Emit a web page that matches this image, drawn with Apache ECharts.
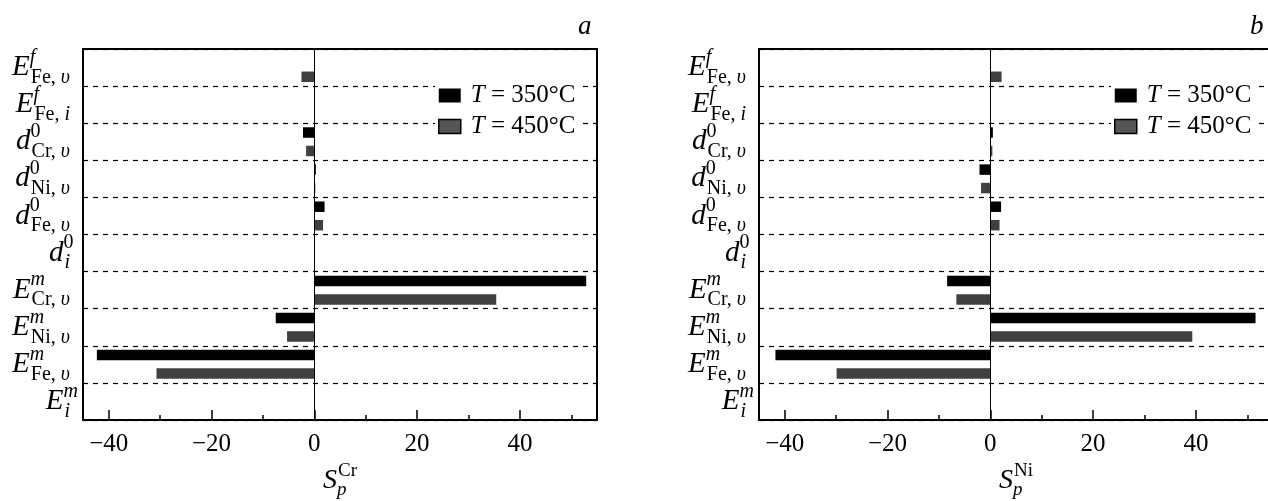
<!DOCTYPE html>
<html>
<head>
<meta charset="utf-8">
<script src="https://cdn.jsdelivr.net/npm/echarts@6/dist/echarts.min.js"></script>
<style>
  html, body { margin: 0; padding: 0; background: #fff; }
  #chart { width: 1268px; height: 501px; }
</style>
</head>
<body>
<div id="chart"></div>
<script>
// categories, top to bottom: main symbol, superscript, subscript (roman part + italic part)
const catMain = ['E', 'E', 'd', 'd', 'd', 'd', 'E', 'E', 'E', 'E'];
const catSup = ['f', 'f', '0', '0', '0', '0', 'm', 'm', 'm', 'm'];
const catSubRoman = ['Fe, ', 'Fe, ', 'Cr, ', 'Ni, ', 'Fe, ', '', 'Cr, ', 'Ni, ', 'Fe, ', ''];
const catSubItalic = ['υ', 'i', 'υ', 'υ', 'υ', 'i', 'υ', 'υ', 'υ', 'i'];
const categories = catMain.map((m, i) => 'c' + i);

const seriesNames = ['T = 350°C', 'T = 450°C'];

// panel a: S_p^Cr
const crT350 = [null, null, -2.2, 0.3, 2.0, null, 52.9, -7.5, -42.3, null];
const crT450 = [-2.5, null, -1.6, 0.2, 1.7, null, 35.4, -5.3, -30.7, null];
// panel b: S_p^Ni
const niT350 = [null, null, 0.5, -2.1, 2.1, null, -8.4, 51.6, -41.8, null];
const niT450 = [2.2, null, 0.4, -1.8, 1.8, null, -6.6, 39.3, -29.9, null];

const xMin = -45, xMax = 55;
const majorTicks = [-40, -20, 0, 20, 40];
const minorTicks = [-30, -10, 10, 30, 50];

const serif = 'Liberation Serif';
const colors = ['#000000', '#404040'];

const chart = echarts.init(document.getElementById('chart'));

const yRich = {
  main: { fontFamily: serif, fontStyle: 'italic', fontSize: 29, color: '#000', align: 'left', lineHeight: 40, verticalAlign: 'middle' },
  supI: { fontFamily: serif, fontStyle: 'italic', fontSize: 20, color: '#000', align: 'left', width: 1, verticalAlign: 'top', lineHeight: 20 },
  supR: { fontFamily: serif, fontSize: 20, color: '#000', align: 'left', width: 1, verticalAlign: 'top', lineHeight: 20 },
  subR: { fontFamily: serif, fontSize: 20, color: '#000', align: 'left', verticalAlign: 'bottom', lineHeight: 20 },
  subI: { fontFamily: serif, fontStyle: 'italic', fontSize: 20, color: '#000', align: 'left', verticalAlign: 'bottom', lineHeight: 20 }
};

function yLabel(v, i) {
  const supStyle = /\d/.test(catSup[i]) ? 'supR' : 'supI';
  let s = '{main|' + catMain[i] + '}{' + supStyle + '|' + catSup[i] + '}';
  if (catSubRoman[i]) s += '{subR|' + catSubRoman[i] + '}';
  s += '{subI|' + catSubItalic[i] + '}';
  return s;
}

const nameRich = {
  S: { fontFamily: serif, fontStyle: 'italic', fontSize: 28, color: '#000', align: 'left', lineHeight: 38, verticalAlign: 'middle' },
  sub: { fontFamily: serif, fontStyle: 'italic', fontSize: 19, color: '#000', align: 'left', width: 1, verticalAlign: 'bottom', lineHeight: 19 },
  sup: { fontFamily: serif, fontSize: 19, color: '#000', align: 'left', verticalAlign: 'top', lineHeight: 19 }
};

const grids = [
  { left: 83, top: 49, width: 514, height: 371 },
  { left: 759, top: 49, width: 514, height: 371 }
];

function xAxes(gridIndex, elem) {
  return [
    {
      type: 'value', gridIndex: gridIndex, min: xMin, max: xMax,
      name: '{S|S}{sub|p}{sup|' + elem + '}',
      nameLocation: 'middle', nameGap: 41,
      nameTextStyle: { rich: nameRich },
      axisLine: { show: false },
      splitLine: { show: false },
      axisTick: { show: true, inside: true, length: 10, customValues: majorTicks, lineStyle: { color: '#000', width: 1.5 } },
      axisLabel: {
        customValues: majorTicks, margin: 12,
        fontFamily: serif, fontSize: 25, color: '#000',
        formatter: v => String(v).replace('-', '\u2212')
      }
    },
    {
      type: 'value', gridIndex: gridIndex, min: xMin, max: xMax, position: 'bottom',
      axisLine: { show: false },
      splitLine: { show: false },
      axisTick: { show: true, inside: true, length: 5, customValues: minorTicks, lineStyle: { color: '#000', width: 1.5 } },
      axisLabel: { show: false }
    }
  ];
}

function yAxis(gridIndex) {
  return {
    type: 'category', gridIndex: gridIndex, data: categories, inverse: true,
    axisLine: { show: false },
    axisTick: { show: false },
    splitLine: { show: true, lineStyle: { color: '#000', width: 1.2, type: [5, 5] } },
    axisLabel: {
      margin: 13, interval: 0, showMinLabel: true, showMaxLabel: true, hideOverlap: false,
      formatter: yLabel, rich: yRich
    }
  };
}

function barSeries(name, data, xIdx, yIdx, color, withZero) {
  const s = {
    name: name, type: 'bar', data: data,
    xAxisIndex: xIdx, yAxisIndex: yIdx,
    barWidth: 10.5, barGap: '76%',
    itemStyle: { color: color },
    emphasis: { disabled: true }
  };
  if (withZero) {
    s.markLine = {
      silent: true, symbol: 'none',
      label: { show: false },
      lineStyle: { color: '#000', width: 1, type: 'solid' },
      data: [{ xAxis: 0 }]
    };
  }
  return s;
}

function legend(left) {
  return {
    left: left, top: 80, orient: 'vertical',
    data: [
      { name: seriesNames[0] },
      { name: seriesNames[1], itemStyle: { borderColor: '#000', borderWidth: 1.5, color: '#555' } }
    ],
    icon: 'rect', itemWidth: 22, itemHeight: 14, itemGap: 6,
    backgroundColor: '#fff', padding: [3, 3, 3, 3],
    selectedMode: false,
    formatter: n => n.replace('T', '{it|T}'),
    textStyle: {
      fontFamily: serif, fontSize: 25, color: '#000', padding: [0, 0, 0, 5],
      rich: { it: { fontFamily: serif, fontStyle: 'italic', fontSize: 25, color: '#000' } }
    }
  };
}

const option = {
  animation: false,
  backgroundColor: '#fff',
  color: colors,
  title: [
    { text: 'a', left: 573, top: 8, textStyle: { fontFamily: serif, fontStyle: 'italic', fontWeight: 'normal', fontSize: 27, color: '#000' } },
    { text: 'b', left: 1245, top: 8, textStyle: { fontFamily: serif, fontStyle: 'italic', fontWeight: 'normal', fontSize: 27, color: '#000' } }
  ],
  legend: [legend(435), legend(1111)],
  grid: grids.map(g => Object.assign({
    show: true, borderColor: '#000', borderWidth: 2, backgroundColor: 'transparent',
    containLabel: false, outerBoundsMode: 'none'
  }, g)),
  xAxis: xAxes(0, 'Cr').concat(xAxes(1, 'Ni')),
  yAxis: [yAxis(0), yAxis(1)],
  series: [
    barSeries(seriesNames[0], crT350, 0, 0, colors[0], true),
    barSeries(seriesNames[1], crT450, 0, 0, colors[1], false),
    barSeries(seriesNames[0], niT350, 2, 1, colors[0], true),
    barSeries(seriesNames[1], niT450, 2, 1, colors[1], false)
  ]
};

chart.setOption(option);
</script>
</body>
</html>
